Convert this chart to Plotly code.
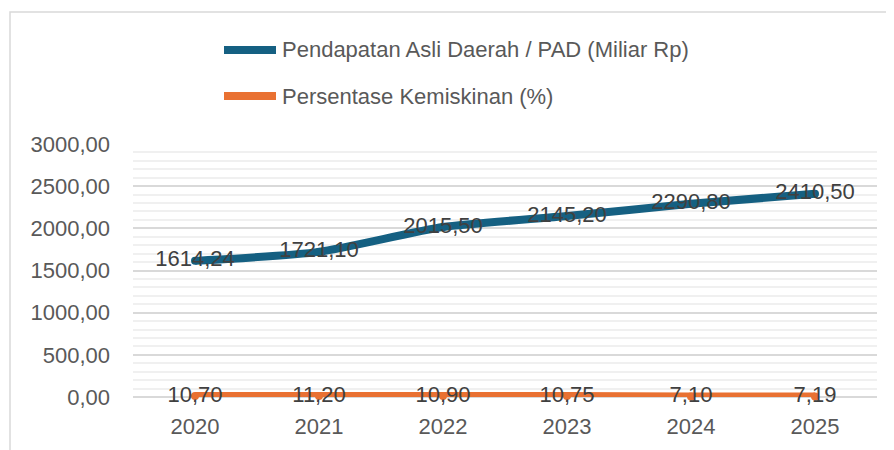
import plotly.graph_objects as go

years = ["2020", "2021", "2022", "2023", "2024", "2025"]
pad_values = [1614.24, 1721.10, 2015.50, 2145.20, 2290.80, 2410.50]
poverty_values = [10.70, 11.20, 10.90, 10.75, 7.10, 7.19]
series_names = ["Pendapatan Asli Daerah / PAD (Miliar Rp)", "Persentase Kemiskinan (%)"]
series_colors = ["#156082", "#E97132"]
y_ticks = [0, 500, 1000, 1500, 2000, 2500, 3000]

FONT = "Liberation Sans, Arial, sans-serif"
TEXT_GREY = "#595959"
LABEL_GREY = "#404040"

fig = go.Figure()
for name, vals, col in zip(series_names, [pad_values, poverty_values], series_colors):
    fig.add_trace(go.Scatter(
        x=years, y=vals, name=name,
        mode="lines+markers+text",
        line=dict(color=col, width=8, shape="spline", smoothing=0.6),
        marker=dict(color=col, size=8, line=dict(width=0)),
        text=[f"{v:.2f}".replace(".", ",") for v in vals],
        textposition="middle center",
        textfont=dict(family=FONT, size=22, color=LABEL_GREY),
        showlegend=False,
        cliponaxis=False,
    ))

# page offset (body margin) compensation
OFF = 8
FIG_W, FIG_H = 894 - OFF, 450 - OFF
# plot area in page pixels
plot_l, plot_r, plot_t, plot_b = 133, 877, 144, 397
W = plot_r - plot_l
H = plot_b - plot_t
def px(x):
    return (x - plot_l) / W
def py(y):
    return (plot_b - y) / H

shapes = []
annotations = []
for i, (name, col) in enumerate(zip(series_names, series_colors)):
    yy = 50 + i * 46
    shapes.append(dict(type="line", xref="paper", yref="paper",
                       x0=px(224), x1=px(276), y0=py(yy), y1=py(yy),
                       line=dict(color=col, width=8)))
    annotations.append(dict(xref="paper", yref="paper", x=px(280), y=py(yy),
                            xanchor="left", yanchor="middle", showarrow=False,
                            text=name, font=dict(family=FONT, size=22, color=TEXT_GREY)))

# chart border
shapes.append(dict(type="rect", xref="paper", yref="paper",
                   x0=px(10), x1=px(1000), y0=py(12), y1=py(600),
                   line=dict(color="#d9d9d9", width=1.5), fillcolor="rgba(0,0,0,0)", layer="below"))

fig.update_layout(
    width=FIG_W, height=FIG_H,
    margin=dict(l=plot_l - OFF, r=OFF + FIG_W - plot_r, t=plot_t - OFF, b=OFF + FIG_H - plot_b),
    paper_bgcolor="white", plot_bgcolor="white",
    separators=",.",
    shapes=shapes, annotations=annotations,
    xaxis=dict(
        type="category", range=[-0.5, 5.5],
        showgrid=False, zeroline=False, showline=False, ticks="",
        tickfont=dict(family=FONT, size=22, color=TEXT_GREY),
        ticklabelstandoff=14,
    ),
    yaxis=dict(
        range=[0, 3000], tickvals=y_ticks, tickformat=".2f",
        showgrid=True, gridcolor="#d9d9d9", gridwidth=1.5,
        zeroline=True, zerolinecolor="#d9d9d9", zerolinewidth=1.5,
        showline=False, ticks="",
        tickfont=dict(family=FONT, size=22, color=TEXT_GREY),
        ticklabelstandoff=22,
        minor=dict(dtick=100, tick0=0, showgrid=True, gridcolor="#f0f0f0", gridwidth=1.5),
    ),
)

fig.write_html("out.html")
